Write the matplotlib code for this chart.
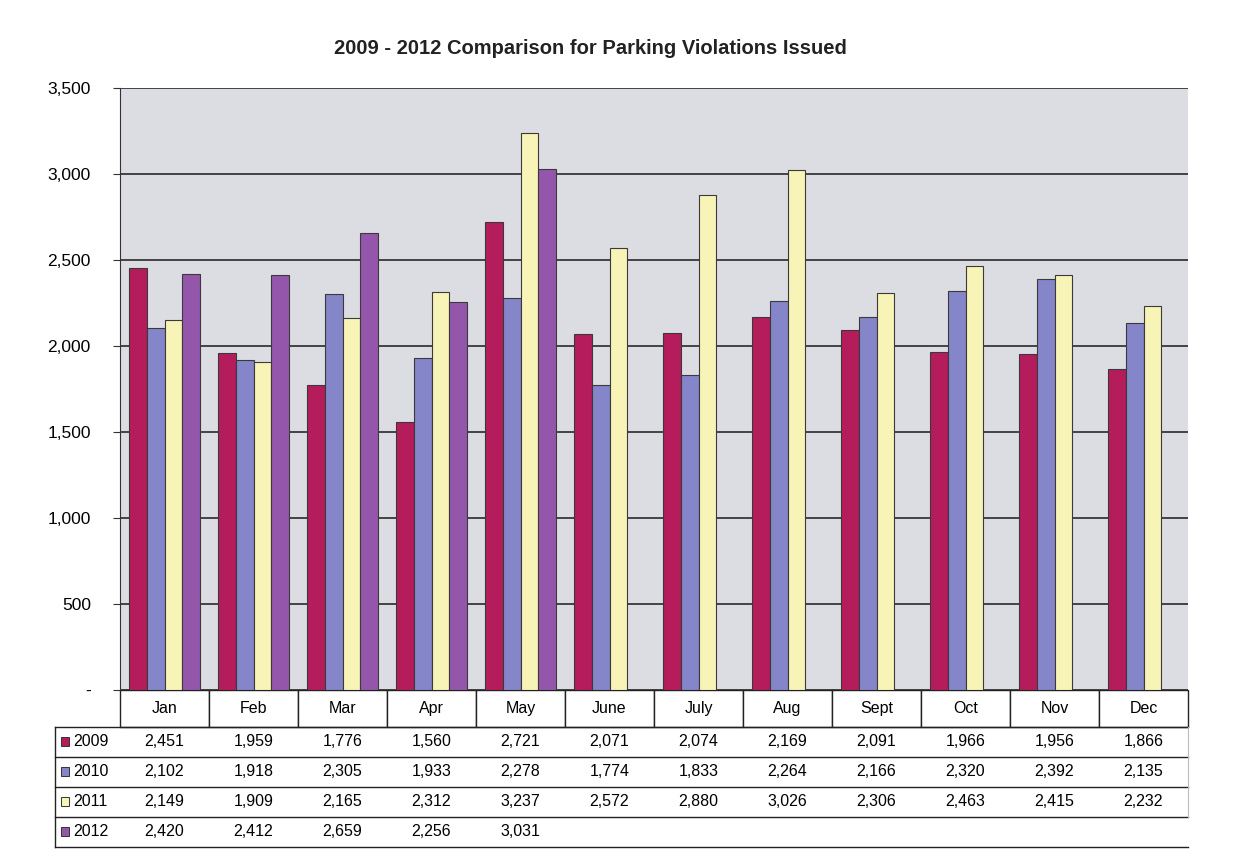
import matplotlib.pyplot as plt
import numpy as np
from matplotlib.patches import Rectangle

plt.rcParams['font.family'] = ['Liberation Sans', 'DejaVu Sans']

months = ["Jan", "Feb", "Mar", "Apr", "May", "June", "July", "Aug", "Sept", "Oct", "Nov", "Dec"]
years = ["2009", "2010", "2011", "2012"]
v2009 = [2451, 1959, 1776, 1560, 2721, 2071, 2074, 2169, 2091, 1966, 1956, 1866]
v2010 = [2102, 1918, 2305, 1933, 2278, 1774, 1833, 2264, 2166, 2320, 2392, 2135]
v2011 = [2149, 1909, 2165, 2312, 3237, 2572, 2880, 3026, 2306, 2463, 2415, 2232]
v2012 = [2420, 2412, 2659, 2256, 3031]
colors = ["#b41c5c", "#8585c9", "#f8f3b6", "#9456ab"]

series = [v2009, v2010, v2011, v2012]

fig = plt.figure(figsize=(12.54, 8.57), dpi=100)
ax = fig.add_axes([120 / 1254, 1 - 690 / 857, 1068 / 1254, 602 / 857])
ax.set_facecolor("#dcdce3")

x = np.arange(len(months))
width = 0.2
offsets = [-0.3, -0.1, 0.1, 0.3]
for vals, col, off in zip(series, colors, offsets):
    ax.bar(x[:len(vals)] + off, vals, width=width, color=col,
           edgecolor="#3a3a3a", linewidth=0.8, zorder=3)

ax.set_xlim(-0.5, len(months) - 0.5)
ax.set_ylim(0, 3500)
ax.set_yticks(np.arange(0, 3501, 500))
ax.set_yticklabels(["-"] + [f"{v:,}" for v in range(500, 3501, 500)], fontsize=12.5)
ax.tick_params(axis="y", length=5, direction="out", pad=16, color="#333333")
ax.set_xticks([])
ax.grid(axis="y", color="#2a2a2a", linewidth=1.2, zorder=1)
for s in ["top", "right", "bottom"]:
    ax.spines[s].set_visible(False)
ax.spines["left"].set_color("#333333")

fig.text(590 / 1254, 1 - 48 / 857, "2009 - 2012 Comparison for Parking Violations Issued",
         ha="center", va="center", fontsize=14.5, fontweight="bold", color="#222222")

# data table under the chart
trans = ax.get_xaxis_transform()
px = 1 / 602
hdr_bot = -37 * px
row_h = 30 * px
left = (55 - 120) / 1068

for i, m in enumerate(months):
    ax.add_patch(Rectangle((i - 0.5, hdr_bot), 1, -hdr_bot, transform=trans,
                           facecolor="white", edgecolor="#222222", linewidth=1.0,
                           clip_on=False))
    ax.text(i, hdr_bot / 2, m, transform=trans, ha="center", va="center", fontsize=11.5)

lines_y = [hdr_bot - row_h * k for k in range(5)]
for yy in lines_y:
    ax.plot([left, 1], [yy, yy], transform=ax.transAxes, color="#222222",
            linewidth=1.0, clip_on=False)
ax.plot([left, left], [lines_y[0], lines_y[-1]], transform=ax.transAxes,
        color="#222222", linewidth=1.0, clip_on=False)
ax.plot([1, 1], [lines_y[0], lines_y[3]], transform=ax.transAxes,
        color="#bbbbbb", linewidth=0.8, clip_on=False)

for k, (yr, vals, col) in enumerate(zip(years, series, colors)):
    yc = hdr_bot - row_h * (k + 0.5)
    ax.add_patch(Rectangle((left + 0.006, yc - 4 * px), 0.0075, 9 * px,
                           transform=ax.transAxes, facecolor=col,
                           edgecolor="#333333", linewidth=0.7, clip_on=False))
    ax.text(left + 0.017, yc, yr, transform=ax.transAxes, ha="left", va="center",
            fontsize=11.5)
    for i, v in enumerate(vals):
        ax.text(i, yc, f"{v:,}", transform=trans, ha="center", va="center", fontsize=11.5)

fig.savefig("out.png", dpi=100)
